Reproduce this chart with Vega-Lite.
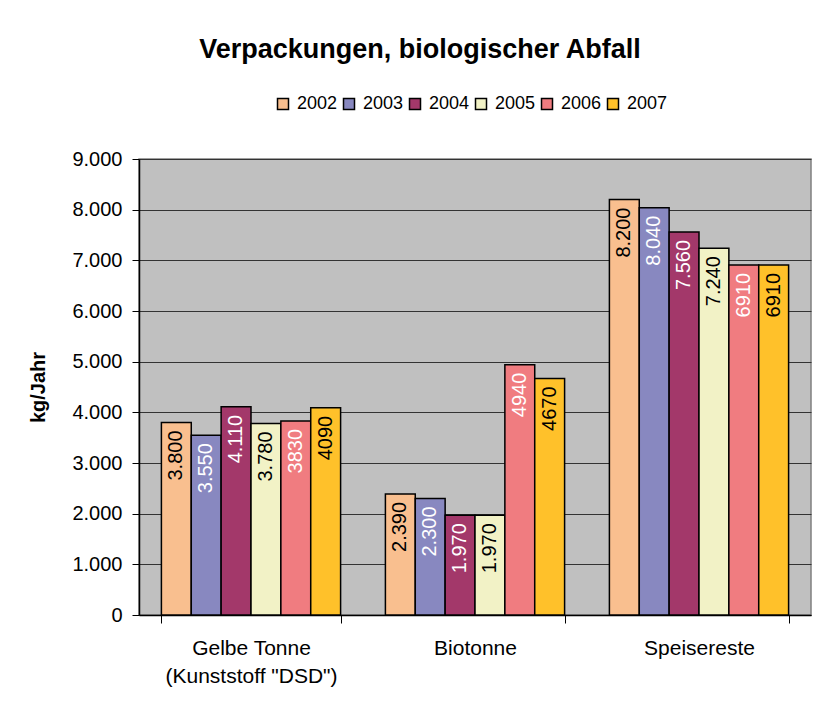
{
  "$schema": "https://vega.github.io/schema/vega-lite/v6.json",
  "autosize": "none",
  "padding": {"left": 139, "top": 159, "right": 4, "bottom": 96},
  "width": 672,
  "height": 456,
  "background": "white",
  "config": {
    "font": "Liberation Sans",
    "locale": {"number": {"decimal": ",", "thousands": ".", "grouping": [3], "currency": ["", " €"]}},
    "view": {"fill": "#C0C0C0", "stroke": "#808080", "strokeWidth": 1.5}
  },
  "title": {
    "text": "Verpackungen, biologischer Abfall",
    "font": "Liberation Sans",
    "fontSize": 27,
    "fontWeight": "bold",
    "color": "black",
    "anchor": "middle",
    "frame": "group",
    "dx": -55,
    "offset": 31
  },
  "data": {
    "values": [
      {"cat": "Gelbe Tonne", "year": "2002", "value": 3800, "label": "3.800"},
      {"cat": "Gelbe Tonne", "year": "2003", "value": 3550, "label": "3.550"},
      {"cat": "Gelbe Tonne", "year": "2004", "value": 4110, "label": "4.110"},
      {"cat": "Gelbe Tonne", "year": "2005", "value": 3780, "label": "3.780"},
      {"cat": "Gelbe Tonne", "year": "2006", "value": 3830, "label": "3830"},
      {"cat": "Gelbe Tonne", "year": "2007", "value": 4090, "label": "4090"},
      {"cat": "Biotonne", "year": "2002", "value": 2390, "label": "2.390"},
      {"cat": "Biotonne", "year": "2003", "value": 2300, "label": "2.300"},
      {"cat": "Biotonne", "year": "2004", "value": 1970, "label": "1.970"},
      {"cat": "Biotonne", "year": "2005", "value": 1970, "label": "1.970"},
      {"cat": "Biotonne", "year": "2006", "value": 4940, "label": "4940"},
      {"cat": "Biotonne", "year": "2007", "value": 4670, "label": "4670"},
      {"cat": "Speisereste", "year": "2002", "value": 8200, "label": "8.200"},
      {"cat": "Speisereste", "year": "2003", "value": 8040, "label": "8.040"},
      {"cat": "Speisereste", "year": "2004", "value": 7560, "label": "7.560"},
      {"cat": "Speisereste", "year": "2005", "value": 7240, "label": "7.240"},
      {"cat": "Speisereste", "year": "2006", "value": 6910, "label": "6910"},
      {"cat": "Speisereste", "year": "2007", "value": 6910, "label": "6910"}
    ]
  },
  "encoding": {
    "x": {
      "field": "cat",
      "type": "nominal",
      "sort": ["Gelbe Tonne", "Biotonne", "Speisereste"],
      "scale": {"paddingInner": 0.2, "paddingOuter": 0.1},
      "axis": {
        "title": null,
        "labelAngle": 0,
        "labelFont": "Liberation Sans",
        "labelFontSize": 21,
        "labelColor": "black",
        "labelPadding": 14,
        "labelLineHeight": 28,
        "labelExpr": "datum.value == 'Gelbe Tonne' ? ['Gelbe Tonne', '(Kunststoff \"DSD\")'] : datum.label",
        "tickBand": "extent",
        "tickSize": 8,
        "tickColor": "black",
        "domainColor": "black",
        "domainWidth": 1.5,
        "grid": false
      }
    },
    "xOffset": {
      "field": "year",
      "type": "nominal",
      "scale": {"paddingInner": 0, "paddingOuter": 0}
    },
    "y": {
      "field": "value",
      "type": "quantitative",
      "scale": {"domain": [0, 9000], "nice": false},
      "axis": {
        "title": "kg/Jahr",
        "titleFont": "Liberation Sans",
        "titleFontSize": 20,
        "titleFontWeight": "bold",
        "titleColor": "black",
        "titlePadding": 23,
        "values": [0, 1000, 2000, 3000, 4000, 5000, 6000, 7000, 8000, 9000],
        "format": ",d",
        "labelFont": "Liberation Sans",
        "labelFontSize": 20,
        "labelColor": "black",
        "labelPadding": 10,
        "tickSize": 7,
        "tickColor": "black",
        "domainColor": "black",
        "domainWidth": 1.5,
        "grid": true,
        "gridColor": "#333333",
        "gridWidth": 1
      }
    }
  },
  "layer": [
    {
      "mark": {"type": "bar", "stroke": "black", "strokeWidth": 1.5},
      "encoding": {
        "color": {
          "field": "year",
          "type": "nominal",
          "scale": {
            "domain": ["2002", "2003", "2004", "2005", "2006", "2007"],
            "range": ["#F9BF8F", "#8888C0", "#A3386A", "#F2F2C6", "#F07C80", "#FFC12A"]
          },
          "legend": {
            "title": null,
            "orient": "none",
            "direction": "horizontal",
            "legendX": 135,
            "legendY": -64,
            "symbolType": "square",
            "symbolSize": 121,
            "symbolStrokeColor": "black",
            "symbolStrokeWidth": 1.5,
            "symbolOpacity": 1,
            "labelFont": "Liberation Sans",
            "labelFontSize": 18,
            "labelColor": "black",
            "labelOffset": 5,
            "columnPadding": 2
          }
        }
      }
    },
    {
      "transform": [{"filter": "datum.year == '2002' || datum.year == '2005' || datum.year == '2007'"}],
      "mark": {"type": "text", "angle": 270, "align": "right", "baseline": "middle", "dx": -8, "font": "Liberation Sans", "fontSize": 20, "color": "black"},
      "encoding": {"text": {"field": "label"}}
    },
    {
      "transform": [{"filter": "datum.year == '2003' || datum.year == '2004' || datum.year == '2006'"}],
      "mark": {"type": "text", "angle": 270, "align": "right", "baseline": "middle", "dx": -8, "font": "Liberation Sans", "fontSize": 20, "color": "white"},
      "encoding": {"text": {"field": "label"}}
    }
  ]
}
